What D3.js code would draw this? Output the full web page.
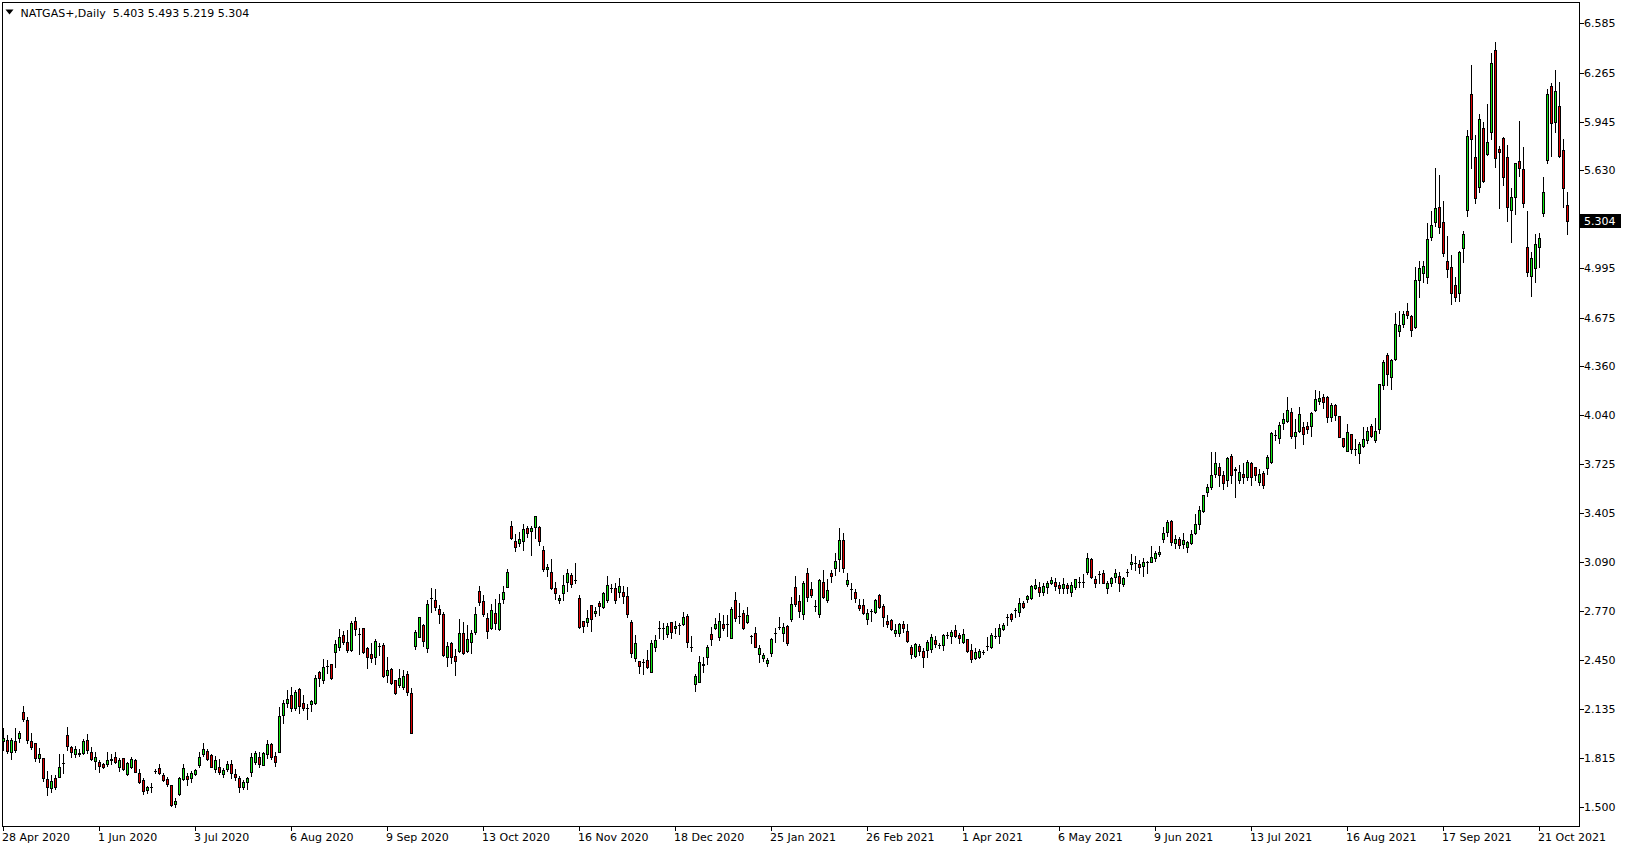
<!DOCTYPE html>
<html><head><meta charset="utf-8">
<script src="https://cdn.jsdelivr.net/npm/d3@7/dist/d3.min.js"></script>
<style>
html,body{margin:0;padding:0;background:#fff;overflow:hidden}
svg{display:block}
text{font-family:"DejaVu Sans",sans-serif;font-size:11px;fill:#000}
</style>
</head><body>
<svg id="chart" width="1629" height="850"></svg>
<script>
const headerText = "NATGAS+,Daily  5.403 5.493 5.219 5.304";

const openP = [
1.925,1.932,1.852,1.925,1.947,2.111,2.062,1.925,1.910,1.813,
1.813,1.676,1.618,1.683,1.694,1.785,1.962,1.884,1.839,1.845,
1.850,1.932,1.852,1.798,1.787,1.774,1.776,1.806,1.819,1.759,
1.813,1.711,1.759,1.802,1.715,1.672,1.609,1.629,1.733,1.748,
1.705,1.679,1.637,1.518,1.581,1.679,1.698,1.687,1.709,1.769,
1.839,1.860,1.832,1.744,1.759,1.709,1.744,1.774,1.709,1.683,
1.629,1.661,1.722,1.791,1.819,1.767,1.839,1.906,1.830,1.856,
2.094,2.170,2.224,2.137,2.265,2.170,2.137,2.163,2.170,2.373,
2.319,2.415,2.423,2.501,2.538,2.614,2.566,2.516,2.702,2.623,
2.657,2.527,2.488,2.473,2.545,2.547,2.354,2.391,2.321,2.289,
2.278,2.358,2.235,2.544,2.603,2.679,2.527,2.852,2.841,2.782,
2.748,2.469,2.560,2.477,2.512,2.624,2.512,2.570,2.635,2.899,
2.834,2.722,2.657,2.754,2.653,2.847,2.927,3.321,3.224,3.209,
3.226,3.306,3.291,3.317,3.315,3.166,3.040,3.023,2.917,2.839,
2.884,2.960,3.003,2.971,2.852,2.705,2.700,2.806,2.754,2.819,
2.793,2.841,2.920,2.917,2.895,2.891,2.867,2.696,2.466,2.445,
2.441,2.451,2.376,2.538,2.662,2.657,2.618,2.696,2.657,2.681,
2.683,2.737,2.538,2.293,2.311,2.423,2.469,2.618,2.657,2.603,
2.683,2.683,2.592,2.841,2.737,2.754,2.700,2.609,2.624,2.488,
2.466,2.430,2.495,2.625,2.664,2.624,2.672,2.715,2.923,2.834,
2.748,3.014,2.912,2.805,2.748,2.958,2.841,3.014,3.047,3.105,
3.231,2.943,2.911,2.893,2.808,2.808,2.718,2.770,2.765,2.873,
2.802,2.705,2.711,2.629,2.624,2.683,2.640,2.538,2.477,2.542,
2.512,2.516,2.521,2.581,2.549,2.549,2.612,2.607,2.646,2.614,
2.570,2.588,2.516,2.462,2.473,2.506,2.545,2.534,2.610,2.605,
2.653,2.729,2.748,2.775,2.765,2.819,2.845,2.852,2.917,2.923,
2.895,2.927,2.953,2.956,2.938,2.920,2.938,2.895,2.927,2.961,
2.960,3.025,3.107,2.975,3.010,3.014,2.917,2.953,2.988,2.999,
2.945,3.024,3.073,3.084,3.073,3.064,3.086,3.090,3.111,3.137,
3.235,3.285,3.356,3.209,3.235,3.205,3.187,3.209,3.274,3.332,
3.421,3.544,3.577,3.657,3.702,3.650,3.620,3.776,3.690,3.620,
3.660,3.640,3.728,3.702,3.610,3.667,3.696,3.739,3.911,3.895,
3.988,4.003,4.059,3.908,3.940,3.962,3.971,3.973,4.073,4.133,
4.161,4.157,4.031,4.107,4.038,3.891,3.811,3.917,3.824,3.793,
3.843,3.878,3.971,3.880,3.949,4.237,4.430,4.291,4.406,4.590,
4.633,4.720,4.687,4.616,4.919,4.962,4.936,5.196,5.293,5.395,
5.293,5.042,5.001,4.886,4.832,5.124,5.373,6.127,5.720,5.525,
5.904,5.735,5.878,6.412,5.769,5.839,5.720,5.373,5.456,5.692,
5.638,5.131,4.947,4.995,5.135,5.352,5.698,6.181,5.947,6.047,
5.763,5.403];

const highP = [
2.008,1.964,1.943,2.008,1.992,2.153,2.079,1.975,1.910,1.878,
1.813,1.731,1.702,1.705,1.841,1.841,2.014,1.895,1.893,1.873,
1.938,1.969,1.884,1.856,1.802,1.785,1.852,1.839,1.852,1.813,
1.817,1.787,1.824,1.806,1.741,1.683,1.635,1.650,1.746,1.776,
1.715,1.689,1.637,1.557,1.689,1.776,1.715,1.731,1.744,1.852,
1.914,1.871,1.841,1.828,1.806,1.748,1.795,1.802,1.741,1.698,
1.672,1.694,1.845,1.860,1.852,1.856,1.932,1.915,1.852,2.148,
2.192,2.256,2.278,2.256,2.272,2.224,2.166,2.192,2.354,2.380,
2.458,2.451,2.423,2.581,2.653,2.640,2.646,2.705,2.728,2.657,
2.661,2.538,2.560,2.586,2.560,2.564,2.469,2.397,2.321,2.393,
2.386,2.380,2.272,2.646,2.733,2.685,2.841,2.917,2.910,2.808,
2.765,2.566,2.566,2.521,2.718,2.696,2.679,2.646,2.798,2.932,
2.873,2.754,2.815,2.847,2.878,2.934,3.042,3.354,3.267,3.285,
3.334,3.324,3.321,3.386,3.321,3.192,3.073,3.107,2.960,2.873,
3.003,3.042,3.018,3.083,2.873,2.705,2.776,2.806,2.793,2.837,
2.895,2.997,2.943,2.949,2.986,2.932,2.923,2.711,2.614,2.445,
2.456,2.516,2.581,2.614,2.705,2.689,2.689,2.700,2.705,2.689,
2.765,2.748,2.607,2.358,2.477,2.473,2.549,2.663,2.726,2.759,
2.744,2.744,2.798,2.891,2.819,2.776,2.793,2.612,2.663,2.549,
2.499,2.462,2.596,2.657,2.728,2.689,2.678,2.858,2.997,2.873,
2.966,3.047,2.960,2.841,2.975,3.034,2.977,3.036,3.144,3.311,
3.274,3.014,2.949,2.910,2.847,2.847,2.782,2.784,2.847,2.880,
2.815,2.744,2.718,2.685,2.694,2.705,2.685,2.549,2.560,2.553,
2.531,2.581,2.618,2.607,2.560,2.618,2.635,2.646,2.679,2.629,
2.653,2.588,2.555,2.531,2.521,2.516,2.599,2.624,2.657,2.685,
2.689,2.748,2.754,2.787,2.852,2.834,2.873,2.939,2.975,2.960,
2.949,2.966,2.992,2.982,2.960,2.982,2.949,2.956,2.977,2.992,
3.008,3.144,3.116,2.999,3.031,3.036,2.964,2.992,3.040,3.025,
2.992,3.040,3.140,3.125,3.099,3.116,3.094,3.192,3.159,3.192,
3.317,3.360,3.360,3.263,3.252,3.274,3.224,3.295,3.399,3.451,
3.523,3.592,3.802,3.802,3.733,3.680,3.767,3.787,3.706,3.717,
3.728,3.749,3.738,3.706,3.690,3.680,3.782,3.930,3.945,3.999,
4.057,4.157,4.090,4.016,4.092,3.995,3.999,4.064,4.205,4.198,
4.176,4.166,4.118,4.111,4.038,3.891,3.982,3.919,3.884,3.869,
3.966,3.966,3.982,4.021,4.241,4.399,4.447,4.403,4.702,4.720,
4.720,4.767,4.692,5.001,5.042,5.042,5.287,5.367,5.648,5.601,
5.432,5.205,5.081,4.940,5.107,5.237,5.893,6.315,5.860,5.997,
5.947,6.062,6.395,6.462,5.789,5.845,5.795,5.514,5.681,5.951,
5.785,5.367,5.103,5.218,5.226,5.590,6.157,6.196,6.282,6.207,
5.834,5.493];

const lowP = [
1.867,1.845,1.808,1.856,1.921,2.057,1.914,1.876,1.798,1.791,
1.668,1.577,1.596,1.611,1.694,1.715,1.867,1.819,1.819,1.830,
1.839,1.850,1.802,1.744,1.726,1.748,1.765,1.774,1.780,1.731,
1.737,1.702,1.748,1.722,1.655,1.583,1.590,1.596,1.720,1.709,
1.666,1.635,1.503,1.499,1.575,1.672,1.640,1.661,1.702,1.759,
1.828,1.802,1.754,1.722,1.709,1.694,1.731,1.687,1.672,1.592,
1.611,1.611,1.700,1.776,1.754,1.767,1.813,1.806,1.765,1.856,
2.044,2.148,2.122,2.127,2.105,2.127,2.068,2.122,2.166,2.285,
2.304,2.365,2.330,2.408,2.516,2.555,2.505,2.512,2.614,2.488,
2.499,2.402,2.440,2.423,2.484,2.343,2.311,2.293,2.230,2.274,
2.263,2.224,1.975,2.521,2.598,2.544,2.505,2.765,2.776,2.694,
2.479,2.415,2.430,2.354,2.505,2.490,2.505,2.499,2.618,2.808,
2.739,2.596,2.653,2.650,2.646,2.824,2.923,3.235,3.161,3.194,
3.166,3.248,3.133,3.246,3.198,3.029,2.997,2.912,2.847,2.824,
2.841,2.901,2.927,2.949,2.660,2.635,2.674,2.642,2.739,2.744,
2.787,2.830,2.895,2.819,2.863,2.819,2.728,2.473,2.447,2.369,
2.358,2.401,2.376,2.512,2.596,2.586,2.603,2.596,2.624,2.618,
2.679,2.538,2.512,2.252,2.311,2.376,2.425,2.549,2.650,2.581,
2.646,2.609,2.592,2.705,2.689,2.653,2.694,2.560,2.535,2.440,
2.445,2.415,2.479,2.570,2.650,2.577,2.549,2.705,2.804,2.733,
2.718,2.837,2.863,2.769,2.728,2.852,2.830,2.960,3.003,3.029,
3.025,2.932,2.847,2.830,2.776,2.748,2.683,2.707,2.754,2.787,
2.674,2.668,2.646,2.607,2.609,2.635,2.570,2.466,2.469,2.484,
2.408,2.473,2.501,2.538,2.527,2.516,2.592,2.564,2.598,2.564,
2.564,2.505,2.440,2.456,2.462,2.490,2.516,2.527,2.592,2.564,
2.646,2.679,2.705,2.733,2.737,2.787,2.830,2.845,2.910,2.869,
2.873,2.884,2.945,2.906,2.888,2.888,2.884,2.869,2.910,2.927,
2.927,3.010,2.985,2.927,2.949,2.949,2.888,2.934,2.960,2.901,
2.934,2.999,3.040,3.034,3.018,2.999,3.018,3.088,3.094,3.126,
3.220,3.256,3.198,3.176,3.176,3.176,3.150,3.202,3.267,3.302,
3.414,3.518,3.562,3.642,3.581,3.560,3.580,3.600,3.510,3.600,
3.600,3.620,3.590,3.620,3.590,3.570,3.660,3.733,3.880,3.863,
3.949,3.999,3.895,3.826,3.933,3.852,3.927,3.908,4.068,4.111,
4.085,3.995,4.003,4.009,3.897,3.837,3.811,3.793,3.782,3.728,
3.837,3.863,3.902,3.869,3.923,4.211,4.237,4.209,4.399,4.557,
4.611,4.670,4.555,4.605,4.811,4.908,4.897,5.179,5.269,5.222,
5.077,4.936,4.761,4.785,4.785,5.038,5.337,5.644,5.417,5.492,
5.557,5.730,5.834,5.655,5.389,5.536,5.304,5.163,5.345,5.596,
5.395,4.947,4.817,4.904,5.001,5.337,5.681,5.724,5.882,5.716,
5.395,5.219];

const closeP = [
1.943,1.863,1.930,1.867,1.975,2.068,1.932,1.888,1.817,1.839,
1.687,1.629,1.666,1.629,1.754,1.782,1.895,1.856,1.871,1.843,
1.923,1.867,1.811,1.819,1.765,1.759,1.802,1.804,1.791,1.802,
1.744,1.780,1.806,1.726,1.661,1.603,1.627,1.629,1.733,1.720,
1.672,1.646,1.510,1.536,1.683,1.748,1.679,1.715,1.737,1.819,
1.871,1.806,1.759,1.802,1.722,1.737,1.774,1.715,1.694,1.629,
1.657,1.683,1.819,1.850,1.774,1.845,1.906,1.824,1.791,2.088,
2.170,2.196,2.137,2.241,2.155,2.142,2.137,2.183,2.332,2.332,
2.404,2.414,2.337,2.553,2.603,2.566,2.516,2.689,2.650,2.622,
2.505,2.473,2.466,2.575,2.545,2.350,2.386,2.300,2.235,2.332,
2.347,2.241,1.975,2.635,2.728,2.577,2.813,2.851,2.798,2.752,
2.484,2.542,2.473,2.447,2.624,2.499,2.586,2.624,2.748,2.826,
2.752,2.640,2.776,2.689,2.819,2.893,3.023,3.246,3.183,3.237,
3.300,3.274,3.306,3.386,3.226,3.042,3.053,2.921,2.884,2.854,
2.938,3.014,2.943,2.970,2.663,2.674,2.722,2.715,2.769,2.802,
2.884,2.936,2.919,2.839,2.932,2.869,2.748,2.499,2.560,2.415,
2.440,2.408,2.560,2.581,2.660,2.656,2.672,2.635,2.674,2.680,
2.728,2.570,2.537,2.347,2.436,2.422,2.534,2.586,2.683,2.705,
2.661,2.682,2.780,2.722,2.736,2.657,2.741,2.608,2.538,2.527,
2.484,2.451,2.586,2.624,2.663,2.668,2.560,2.813,2.813,2.772,
2.949,2.863,2.871,2.804,2.971,2.858,2.906,2.997,3.094,3.231,
3.051,2.971,2.910,2.852,2.791,2.754,2.754,2.769,2.841,2.793,
2.733,2.687,2.650,2.646,2.683,2.657,2.577,2.488,2.553,2.512,
2.473,2.566,2.601,2.553,2.548,2.611,2.611,2.633,2.609,2.596,
2.620,2.510,2.456,2.501,2.510,2.505,2.544,2.611,2.609,2.657,
2.679,2.728,2.715,2.774,2.819,2.798,2.867,2.934,2.938,2.891,
2.932,2.949,2.971,2.934,2.916,2.942,2.916,2.938,2.975,2.960,
2.961,3.111,2.992,2.949,3.009,2.953,2.949,2.982,3.014,2.949,
2.982,3.023,3.086,3.083,3.053,3.090,3.085,3.118,3.144,3.153,
3.274,3.345,3.215,3.235,3.198,3.231,3.215,3.267,3.332,3.423,
3.521,3.577,3.650,3.728,3.653,3.600,3.761,3.650,3.685,3.670,
3.640,3.738,3.640,3.650,3.660,3.588,3.767,3.923,3.910,3.977,
4.014,4.075,3.908,3.930,4.047,3.917,3.949,4.053,4.144,4.150,
4.124,4.031,4.107,4.042,3.902,3.843,3.930,3.819,3.823,3.854,
3.884,3.938,3.908,3.938,4.241,4.386,4.306,4.399,4.633,4.627,
4.696,4.692,4.594,4.919,4.995,5.010,5.185,5.276,5.384,5.261,
5.092,4.990,4.832,4.806,5.103,5.215,5.854,5.832,5.449,5.962,
5.564,5.813,6.326,5.709,5.752,5.590,5.391,5.456,5.676,5.644,
5.417,4.973,5.060,5.153,5.189,5.488,6.127,5.936,6.146,5.726,
5.514,5.304];

const dateLabels = ["28 Apr 2020","1 Jun 2020","3 Jul 2020","6 Aug 2020","9 Sep 2020",
  "13 Oct 2020","16 Nov 2020","18 Dec 2020","25 Jan 2021","26 Feb 2021","1 Apr 2021",
  "6 May 2021","9 Jun 2021","13 Jul 2021","16 Aug 2021","17 Sep 2021","21 Oct 2021"];
const barsPerDateLabel = 24;
const priceTicks = [1.500,1.815,2.135,2.450,2.770,3.090,3.405,3.725,4.040,4.360,4.675,4.995,5.630,5.945,6.265,6.585];
const lastPrice = 5.304;

const bullColor = "#11e611";
const bearColor = "#e00000";

const svg = d3.select("#chart");
const N = openP.length;
const data = d3.range(N).map(i => ({i, o: openP[i], h: highP[i], l: lowP[i], c: closeP[i]}));

const plot = {left: 2, top: 2, right: 1579, bottom: 826};
const x = d3.scaleLinear().domain([0, N - 1]).range([3, 3 + 4 * (N - 1)]);
const y = d3.scaleLinear().domain([1.5, 6.585]).range([806.5, 23.4]);

svg.append("rect").attr("width", 1629).attr("height", 850).attr("fill", "#fff");

// candles
const g = svg.append("g").attr("shape-rendering", "crispEdges");
data.forEach(d => {
  const cx = Math.round(x(d.i));
  const yH = Math.round(y(d.h)), yL = Math.round(y(d.l));
  const yO = Math.round(y(d.o)), yC = Math.round(y(d.c));
  g.append("rect").attr("x", cx).attr("y", yH).attr("width", 1).attr("height", Math.max(1, yL - yH + 1)).attr("fill", "#000");
  const top = Math.min(yO, yC), bot = Math.max(yO, yC);
  g.append("rect").attr("x", cx - 1).attr("y", top).attr("width", 3).attr("height", bot - top + 1).attr("fill", "#000");
  if (bot - top >= 2) {
    g.append("rect").attr("x", cx).attr("y", top + 1).attr("width", 1).attr("height", bot - top - 1)
      .attr("fill", d.c > d.o ? bullColor : bearColor);
  }
});

// frame
svg.append("rect").attr("x", plot.left + 0.5).attr("y", plot.top + 0.5)
  .attr("width", plot.right - plot.left).attr("height", plot.bottom - plot.top)
  .attr("fill", "none").attr("stroke", "#000").attr("stroke-width", 1).attr("shape-rendering", "crispEdges");

// price axis
const ya = svg.append("g").attr("shape-rendering", "crispEdges");
priceTicks.forEach(p => {
  const yy = Math.round(y(p)) + 0.5;
  ya.append("line").attr("x1", plot.right + 1).attr("x2", plot.right + 5).attr("y1", yy).attr("y2", yy).attr("stroke", "#000");
  ya.append("text").attr("x", 1584).attr("y", y(p) + 4).text(p.toFixed(3));
});
const yl = Math.round(y(lastPrice));
svg.append("rect").attr("x", 1580).attr("y", yl - 7).attr("width", 41).attr("height", 14).attr("fill", "#000").attr("shape-rendering", "crispEdges");
svg.append("text").attr("x", 1584).attr("y", y(lastPrice) + 4).style("fill", "#fff").text(lastPrice.toFixed(3));

// date axis
dateLabels.forEach((lab, k) => {
  const tx = Math.round(x(k * barsPerDateLabel)) + 0.5;
  svg.append("line").attr("x1", tx).attr("x2", tx).attr("y1", plot.bottom + 1).attr("y2", plot.bottom + 5)
    .attr("stroke", "#000").attr("shape-rendering", "crispEdges");
  svg.append("text").attr("x", tx - 1.5).attr("y", 840.5).text(lab);
});

// header
svg.append("path").attr("d", "M5.5,9.5 L13.5,9.5 L9.5,14.5 Z").attr("fill", "#000");
svg.append("text").attr("x", 20.5).attr("y", 16.5).style("white-space", "pre").text(headerText);
</script>
</body></html>
